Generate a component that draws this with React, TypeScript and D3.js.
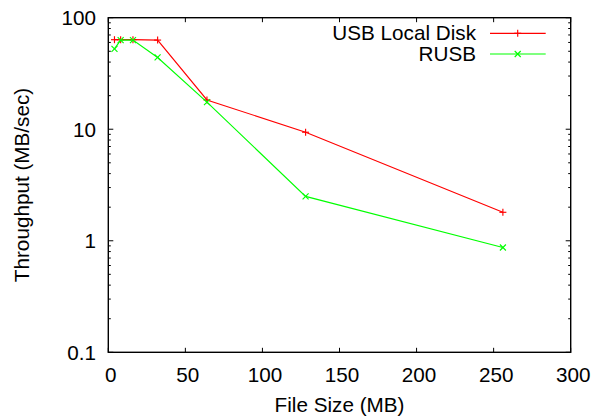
import React from "react";
import * as d3 from "d3";

const fileSizes = [4, 8, 16, 32, 64, 128, 256];
const usbLocalDisk = [63.5, 63.5, 63.5, 63, 18.3, 9.4, 1.8];
const rusb = [52.5, 63, 63, 44, 17.5, 2.5, 0.87];
const xTicks = [0, 50, 100, 150, 200, 250, 300];
const yTicks = [0.1, 1, 10, 100];
const yTickLabels = ["0.1", "1", "10", "100"];

const W = 597;
const H = 417;
const L = 108.3, R = 570.7, T = 17.7, B = 352.3;
const FONT = "'Liberation Sans', Arial, Helvetica, sans-serif";
const FS = 19.8;
const SX = 1.045;

function Txt(props: { x: number; y: number; anchor: string; rot?: number; children: React.ReactNode }) {
  const { x, y, anchor, rot, children } = props;
  return (
    <g transform={`translate(${x},${y})${rot ? ` rotate(${rot})` : ""} scale(${SX},1)`}>
      <text x={0} y={0} textAnchor={anchor} fontSize={FS} fill="#000">
        {children}
      </text>
    </g>
  );
}

export default function App() {
  const x = d3.scaleLinear().domain([0, 300]).range([L, R]);
  const y = d3.scaleLog().domain([0.1, 100]).range([B, T]);
  const line = d3
    .line<[number, number]>()
    .x((d) => x(d[0]))
    .y((d) => y(d[1]));

  const minor: number[] = [];
  for (let e = -1; e < 2; e++) {
    for (let m = 2; m <= 9; m++) minor.push(m * Math.pow(10, e));
  }

  const red = "#ff0000";
  const green = "#00ff00";
  const SW = 1.15;
  const plus = (cx: number, cy: number, c: string, k: string) => (
    <g key={k} stroke={c} strokeWidth={SW}>
      <line x1={cx - 3.5} x2={cx + 3.5} y1={cy} y2={cy} />
      <line x1={cx} x2={cx} y1={cy - 3.5} y2={cy + 3.5} />
    </g>
  );
  const cross = (cx: number, cy: number, c: string, k: string) => (
    <g key={k} stroke={c} strokeWidth={SW}>
      <line x1={cx - 3} x2={cx + 3} y1={cy - 3} y2={cy + 3} />
      <line x1={cx - 3} x2={cx + 3} y1={cy + 3} y2={cy - 3} />
    </g>
  );

  const redData = fileSizes.map((s, i) => [s, usbLocalDisk[i]] as [number, number]);
  const greenData = fileSizes.map((s, i) => [s, rusb[i]] as [number, number]);

  return (
    <svg
      width={W}
      height={H}
      style={{ position: "absolute", left: 0, top: 0, background: "#fff" }}
      fontFamily={FONT}
    >
      <rect width={W} height={H} fill="#fff" />
      {/* ticks */}
      <g stroke="#000" strokeWidth={1}>
        {xTicks.map((t) => (
          <g key={"xt" + t}>
            <line x1={x(t)} x2={x(t)} y1={B} y2={B - 4.5} />
            <line x1={x(t)} x2={x(t)} y1={T} y2={T + 4.5} />
          </g>
        ))}
        {yTicks.map((t) => (
          <g key={"yt" + t}>
            <line x1={L} x2={L + 5} y1={y(t)} y2={y(t)} />
            <line x1={R} x2={R - 5} y1={y(t)} y2={y(t)} />
          </g>
        ))}
        {minor.map((t) => (
          <g key={"ym" + t}>
            <line x1={L} x2={L + 2.5} y1={y(t)} y2={y(t)} />
            <line x1={R} x2={R - 2.5} y1={y(t)} y2={y(t)} />
          </g>
        ))}
      </g>
      <rect x={L} y={T} width={R - L} height={B - T} fill="none" stroke="#000" strokeWidth={1.4} />

      {/* tick labels */}
      {xTicks.map((t) => (
        <Txt key={"xl" + t} x={x(t) + 2.5} y={B + 29.5} anchor="middle">
          {t}
        </Txt>
      ))}
      {yTicks.map((t, i) => (
        <Txt key={"yl" + t} x={96} y={y(t) + 7.5} anchor="end">
          {yTickLabels[i]}
        </Txt>
      ))}

      {/* axis titles */}
      <Txt x={(L + R) / 2} y={411.5} anchor="middle">
        File Size (MB)
      </Txt>
      <Txt x={28.5} y={(T + B) / 2} anchor="middle" rot={-90}>
        Throughput (MB/sec)
      </Txt>

      {/* series */}
      <path d={line(redData) || ""} fill="none" stroke={red} strokeWidth={SW} />
      {redData.map((d, i) => plus(x(d[0]), y(d[1]), red, "rp" + i))}
      <path d={line(greenData) || ""} fill="none" stroke={green} strokeWidth={SW} />
      {greenData.map((d, i) => cross(x(d[0]), y(d[1]), green, "gp" + i))}

      {/* legend */}
      <Txt x={476} y={40} anchor="end">
        USB Local Disk
      </Txt>
      <line x1={490} x2={545.7} y1={33.3} y2={33.3} stroke={red} strokeWidth={SW} />
      {plus(517.7, 33.3, red, "lp")}
      <Txt x={476} y={61} anchor="end">
        RUSB
      </Txt>
      <line x1={490} x2={545.7} y1={54} y2={54} stroke={green} strokeWidth={SW} />
      {cross(517.7, 54, green, "lg")}
    </svg>
  );
}
